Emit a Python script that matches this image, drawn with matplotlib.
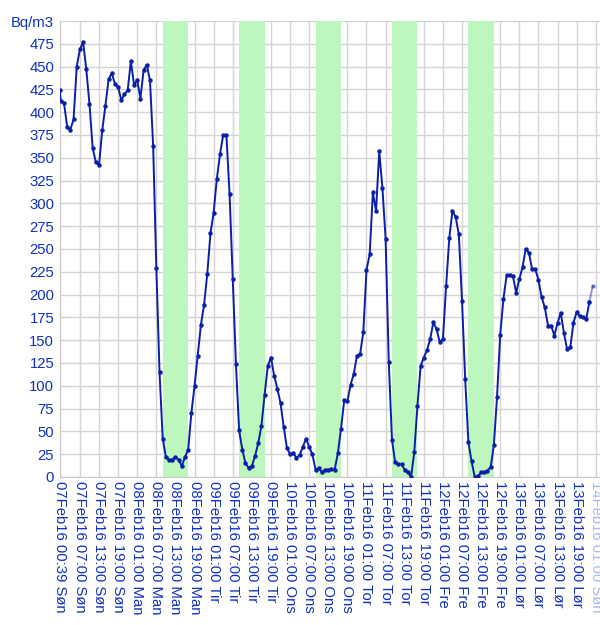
import numpy as np
import pandas as pd
import matplotlib
matplotlib.use("Agg")
import matplotlib.pyplot as plt
import matplotlib.dates as mdates

# Radon readings (Bq/m3), first at 00:39 then every hour
first_time = "2016-02-07 00:39"
hourly_start = "2016-02-07 01:00"
radon = [424,
         412, 410, 384, 381, 392, 450, 469, 477, 447, 409, 361, 345, 342, 380,
         407, 436, 443, 431, 428, 413, 420, 424, 456, 430, 435, 415, 446, 452,
         435, 363, 229, 115, 42, 22, 19, 19, 22, 19, 12, 22, 30, 70, 100, 133,
         167, 189, 223, 267, 290, 327, 354, 375, 375, 310, 217, 124, 51, 30, 15,
         10, 12, 23, 37, 56, 90, 122, 131, 111, 97, 81, 55, 32, 25, 26, 21, 24,
         33, 42, 33, 25, 8, 10, 5, 8, 8, 9, 8, 26, 53, 84, 83, 101, 113, 133,
         135, 159, 227, 244, 312, 292, 357, 317, 261, 126, 41, 16, 14, 14, 8, 5,
         0, 27, 78, 122, 131, 139, 151, 170, 162, 148, 151, 209, 262, 292, 285,
         266, 193, 107, 38, 17, 0, 1, 5, 5, 7, 11, 35, 88, 156, 195, 221, 221,
         220, 202, 217, 230, 250, 246, 228, 228, 216, 197, 186, 166, 166, 155,
         169, 180, 158, 140, 142, 169, 181, 176, 175, 173, 192, 209]

# working hours (green bands)
band_start = ["2016-02-08 09:00", "2016-02-09 09:00", "2016-02-10 09:00",
              "2016-02-11 09:00", "2016-02-12 09:00"]
band_end = ["2016-02-08 17:00", "2016-02-09 17:00", "2016-02-10 17:00",
            "2016-02-11 17:00", "2016-02-12 17:00"]

tick_times = ["2016-02-07 00:39", "2016-02-07 07:00", "2016-02-07 13:00", "2016-02-07 19:00",
              "2016-02-08 01:00", "2016-02-08 07:00", "2016-02-08 13:00", "2016-02-08 19:00",
              "2016-02-09 01:00", "2016-02-09 07:00", "2016-02-09 13:00", "2016-02-09 19:00",
              "2016-02-10 01:00", "2016-02-10 07:00", "2016-02-10 13:00", "2016-02-10 19:00",
              "2016-02-11 01:00", "2016-02-11 07:00", "2016-02-11 13:00", "2016-02-11 19:00",
              "2016-02-12 01:00", "2016-02-12 07:00", "2016-02-12 13:00", "2016-02-12 19:00",
              "2016-02-13 01:00", "2016-02-13 07:00", "2016-02-13 13:00", "2016-02-13 19:00",
              "2016-02-14 01:00"]
tick_labels = ["07Feb16 00:39 Søn", "07Feb16 07:00 Søn", "07Feb16 13:00 Søn", "07Feb16 19:00 Søn",
               "08Feb16 01:00 Man", "08Feb16 07:00 Man", "08Feb16 13:00 Man", "08Feb16 19:00 Man",
               "09Feb16 01:00 Tir", "09Feb16 07:00 Tir", "09Feb16 13:00 Tir", "09Feb16 19:00 Tir",
               "10Feb16 01:00 Ons", "10Feb16 07:00 Ons", "10Feb16 13:00 Ons", "10Feb16 19:00 Ons",
               "11Feb16 01:00 Tor", "11Feb16 07:00 Tor", "11Feb16 13:00 Tor", "11Feb16 19:00 Tor",
               "12Feb16 01:00 Fre", "12Feb16 07:00 Fre", "12Feb16 13:00 Fre", "12Feb16 19:00 Fre",
               "13Feb16 01:00 Lør", "13Feb16 07:00 Lør", "13Feb16 13:00 Lør", "13Feb16 19:00 Lør",
               "14Feb16 01:00 Søn"]

y_ticks = list(range(0, 501, 25))
y_labels = [str(v) for v in y_ticks[:-1]] + ["Bq/m3"]

plt.rcParams['font.family'] = ['Liberation Sans', 'DejaVu Sans']
txt_col = '#1030c0'
line_col = '#0a1fa8'

times = pd.DatetimeIndex([pd.Timestamp(first_time)]).append(
    pd.date_range(hourly_start, periods=len(radon) - 1, freq="h"))

fig = plt.figure(figsize=(6, 6.25), dpi=100)
ax = fig.add_axes([0.0995, 0.2368, 0.9005, 0.7296])

for s, e in zip(band_start, band_end):
    ax.axvspan(pd.Timestamp(s), pd.Timestamp(e), color='#bdf7bd', lw=0, zorder=1)

ax.plot(times[:-1], radon[:-1], color=line_col, lw=1.4, marker='o', ms=2.2, zorder=3)
# last reading sits in the faded right edge of the screenshot
ax.plot(times[-2:], radon[-2:], color=line_col, alpha=0.45, lw=1.4, marker='o', ms=2.2, zorder=3)

ax.set_ylim(0, 500)
ax.set_xlim(pd.Timestamp(first_time), pd.Timestamp("2016-02-14 02:20"))
ax.set_yticks(y_ticks)
ax.set_yticklabels(y_labels)
ax.set_xticks([pd.Timestamp(t) for t in tick_times])
ax.set_xticklabels(tick_labels, rotation=270, ha='center', va='top')
ax.tick_params(axis='both', length=0, labelsize=10.7, labelcolor=txt_col)
ax.tick_params(axis='x', pad=3)
ax.tick_params(axis='y', pad=4)
ax.get_xticklabels()[-1].set_alpha(0.35)
ax.grid(True, color='#d4d4d4', lw=1, zorder=0)
ax.set_axisbelow(True)
for sp in ax.spines.values():
    sp.set_visible(False)
ax.spines['left'].set_visible(True)
ax.spines['left'].set_color('#c8c8c8')
ax.spines['bottom'].set_visible(True)
ax.spines['bottom'].set_color('#c8c8c8')

fig.savefig("out.png", dpi=100)
